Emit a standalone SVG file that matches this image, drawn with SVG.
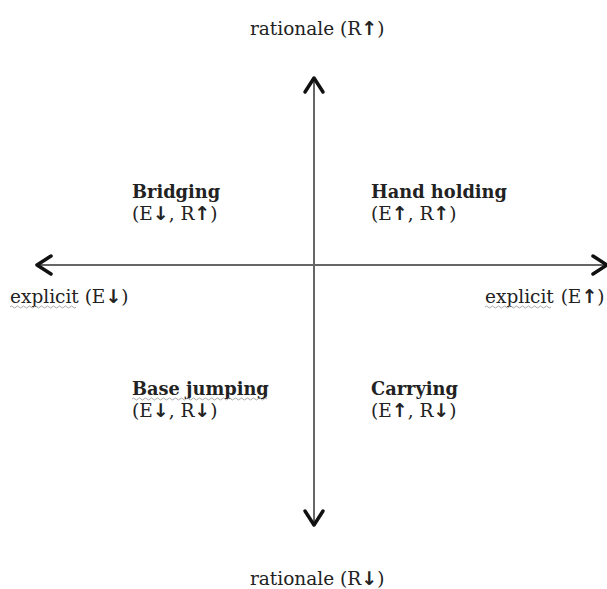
<svg xmlns="http://www.w3.org/2000/svg" width="607" height="589" viewBox="0 0 607 589">
<style>
text{font-family:"DejaVu Serif","Liberation Serif",serif;fill:#222;font-size:18.5px}
.b{font-weight:bold;font-size:17.8px}
.ar{font-family:"DejaVu Sans",sans-serif;font-weight:bold;font-size:19px}
.axis{stroke:#666;stroke-width:2;fill:none}
.head{stroke:#111;stroke-width:3.5;fill:none;stroke-linecap:round;stroke-linejoin:round}
.wavy{stroke:#aaa;stroke-width:1;fill:none}
</style>
<rect width="607" height="589" fill="#fff"/>
<g id="connectors">
<line class="axis" x1="314" y1="80" x2="314" y2="525"/>
<polyline class="head" points="305,92 314,78 323,92"/>
<polyline class="head" points="305,511 314,525 323,511"/>
<line class="axis" x1="38" y1="265" x2="605" y2="265"/>
<polyline class="head" points="51,256 37,265 51,274"/>
<polyline class="head" points="593,256 607,265 593,274"/>
</g>
<g id="top-label"><text x="250" y="35">rationale (R<tspan class="ar">↑</tspan>)</text></g>
<g id="bottom-label"><text x="250" y="585">rationale (R<tspan class="ar">↓</tspan>)</text></g>
<g id="left-label"><text x="10" y="303">explicit (E<tspan class="ar">↓</tspan>)</text>
<path class="wavy" d="M10,307 q1.5,-2 3,0 t3,0 t3,0 t3,0 t3,0 t3,0 t3,0 t3,0 t3,0 t3,0 t3,0 t3,0 t3,0 t3,0 t3,0 t3,0 t3,0 t3,0 t3,0 t3,0 t3,0 t3,0"/></g>
<g id="right-label"><text x="485" y="303">explicit <tspan dx="1">(E</tspan><tspan class="ar">↑</tspan>)</text>
<path class="wavy" d="M485,307 q1.5,-2 3,0 t3,0 t3,0 t3,0 t3,0 t3,0 t3,0 t3,0 t3,0 t3,0 t3,0 t3,0 t3,0 t3,0 t3,0 t3,0 t3,0 t3,0 t3,0 t3,0 t3,0 t3,0"/></g>
<g id="bridging"><text class="b" x="132" y="198">Bridging</text><text x="132" y="220">(E<tspan class="ar">↓</tspan>, R<tspan class="ar">↑</tspan>)</text></g>
<g id="hand-holding"><text class="b" x="371" y="198">Hand holding</text><text x="371" y="220">(E<tspan class="ar">↑</tspan>, R<tspan class="ar">↑</tspan>)</text></g>
<g id="base-jumping"><text class="b" x="132" y="395">Base jumping</text>
<path class="wavy" d="M132,399 q1.5,-2 3,0 t3,0 t3,0 t3,0 t3,0 t3,0 t3,0 t3,0 t3,0 t3,0 t3,0 t3,0 t3,0 t3,0 t3,0 t3,0 t3,0 t3,0 t3,0 t3,0 t3,0 t3,0 t3,0 t3,0 t3,0 t3,0 t3,0 t3,0 t3,0 t3,0 t3,0 t3,0 t3,0 t3,0 t3,0 t3,0 t3,0 t3,0 t3,0 t3,0 t3,0 t3,0 t3,0 t3,0 t3,0"/>
<text x="132" y="417">(E<tspan class="ar">↓</tspan>, R<tspan class="ar">↓</tspan>)</text></g>
<g id="carrying"><text class="b" x="371" y="395">Carrying</text><text x="371" y="417">(E<tspan class="ar">↑</tspan>, R<tspan class="ar">↓</tspan>)</text></g>
</svg>
